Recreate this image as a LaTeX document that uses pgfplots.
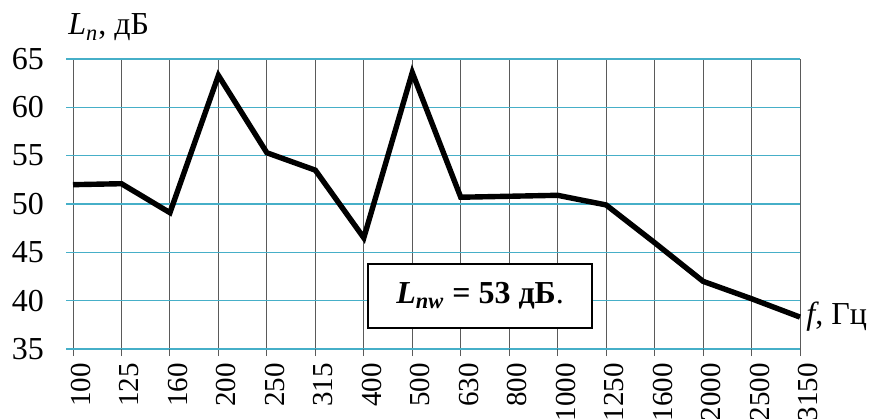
\documentclass[border=0pt]{standalone}
\usepackage{pgfplots}
\pgfplotsset{compat=1.18}
\usepackage{fontspec}
\setmainfont{Liberation Serif}

\definecolor{gridcyan}{RGB}{70,175,200}
\definecolor{gridorange}{RGB}{225,130,60}
\definecolor{vgrid}{RGB}{90,90,90}

\begin{document}
\begin{tikzpicture}
\useasboundingbox (0,0) rectangle (438.5pt,209pt);
\begin{axis}[
  at={(36.5pt,34.5pt)}, anchor=south west,
  scale only axis, width=363.5pt, height=145pt,
  xmin=0, xmax=15, ymin=35, ymax=65,
  axis line style={draw=none},
  xtick={0,...,15},
  xticklabels={100,125,160,200,250,315,400,500,630,800,1000,1250,1600,2000,2500,3150},
  ytick={35,40,...,65},
  xtick pos=bottom, ytick pos=left,
  tick align=outside,
  major tick length=3.5pt,
  xtick style={draw=vgrid, line width=0.5pt},
  ytick style={draw=gridcyan, line width=0.6pt},
  xmajorgrids, ymajorgrids,
  x grid style={draw=vgrid, line width=0.5pt},
  y grid style={draw=gridcyan, line width=0.6pt},
  extra y ticks={35,40,...,65},
  extra y tick labels={},
  extra y tick style={grid style={draw=gridorange, line width=0.6pt, dash pattern=on 14pt off 18pt}},
  /pgf/number format/assume math mode=true,
  y tick label style={font=\fontsize{16}{18}\selectfont, xshift=-7.5pt},
  x tick label style={font=\fontsize{14.5}{17}\selectfont, rotate=90, anchor=east, yshift=-4pt},
  clip=false,
]
\addplot[black, line width=2.7pt, line join=miter] coordinates {
  (0,52.0) (1,52.1) (2,49.1) (3,63.3) (4,55.3) (5,53.5) (6,46.5) (7,63.6)
  (8,50.7) (9,50.8) (10,50.9) (11,49.9) (12,46.0) (13,42.0) (14,40.2) (15,38.3)
};
\node[draw=black, line width=1pt, fill=white, minimum width=112pt, minimum height=32pt,
      font=\fontsize{16}{18}\selectfont]
  at (axis cs:8.4,40.5)
  {\textbf{\textit{L}\textsubscript{\textit{nw}} = 53 дБ}.};
\end{axis}
\node[anchor=base west, inner sep=0pt, font=\fontsize{16}{18}\selectfont]
  at (34pt,191.5pt) {\textit{L}\textsubscript{\textit{n}}, дБ};
\node[anchor=base west, inner sep=0pt, font=\fontsize{16}{18}\selectfont]
  at (403pt,47pt) {\textit{f}, Гц};
\end{tikzpicture}
\end{document}
